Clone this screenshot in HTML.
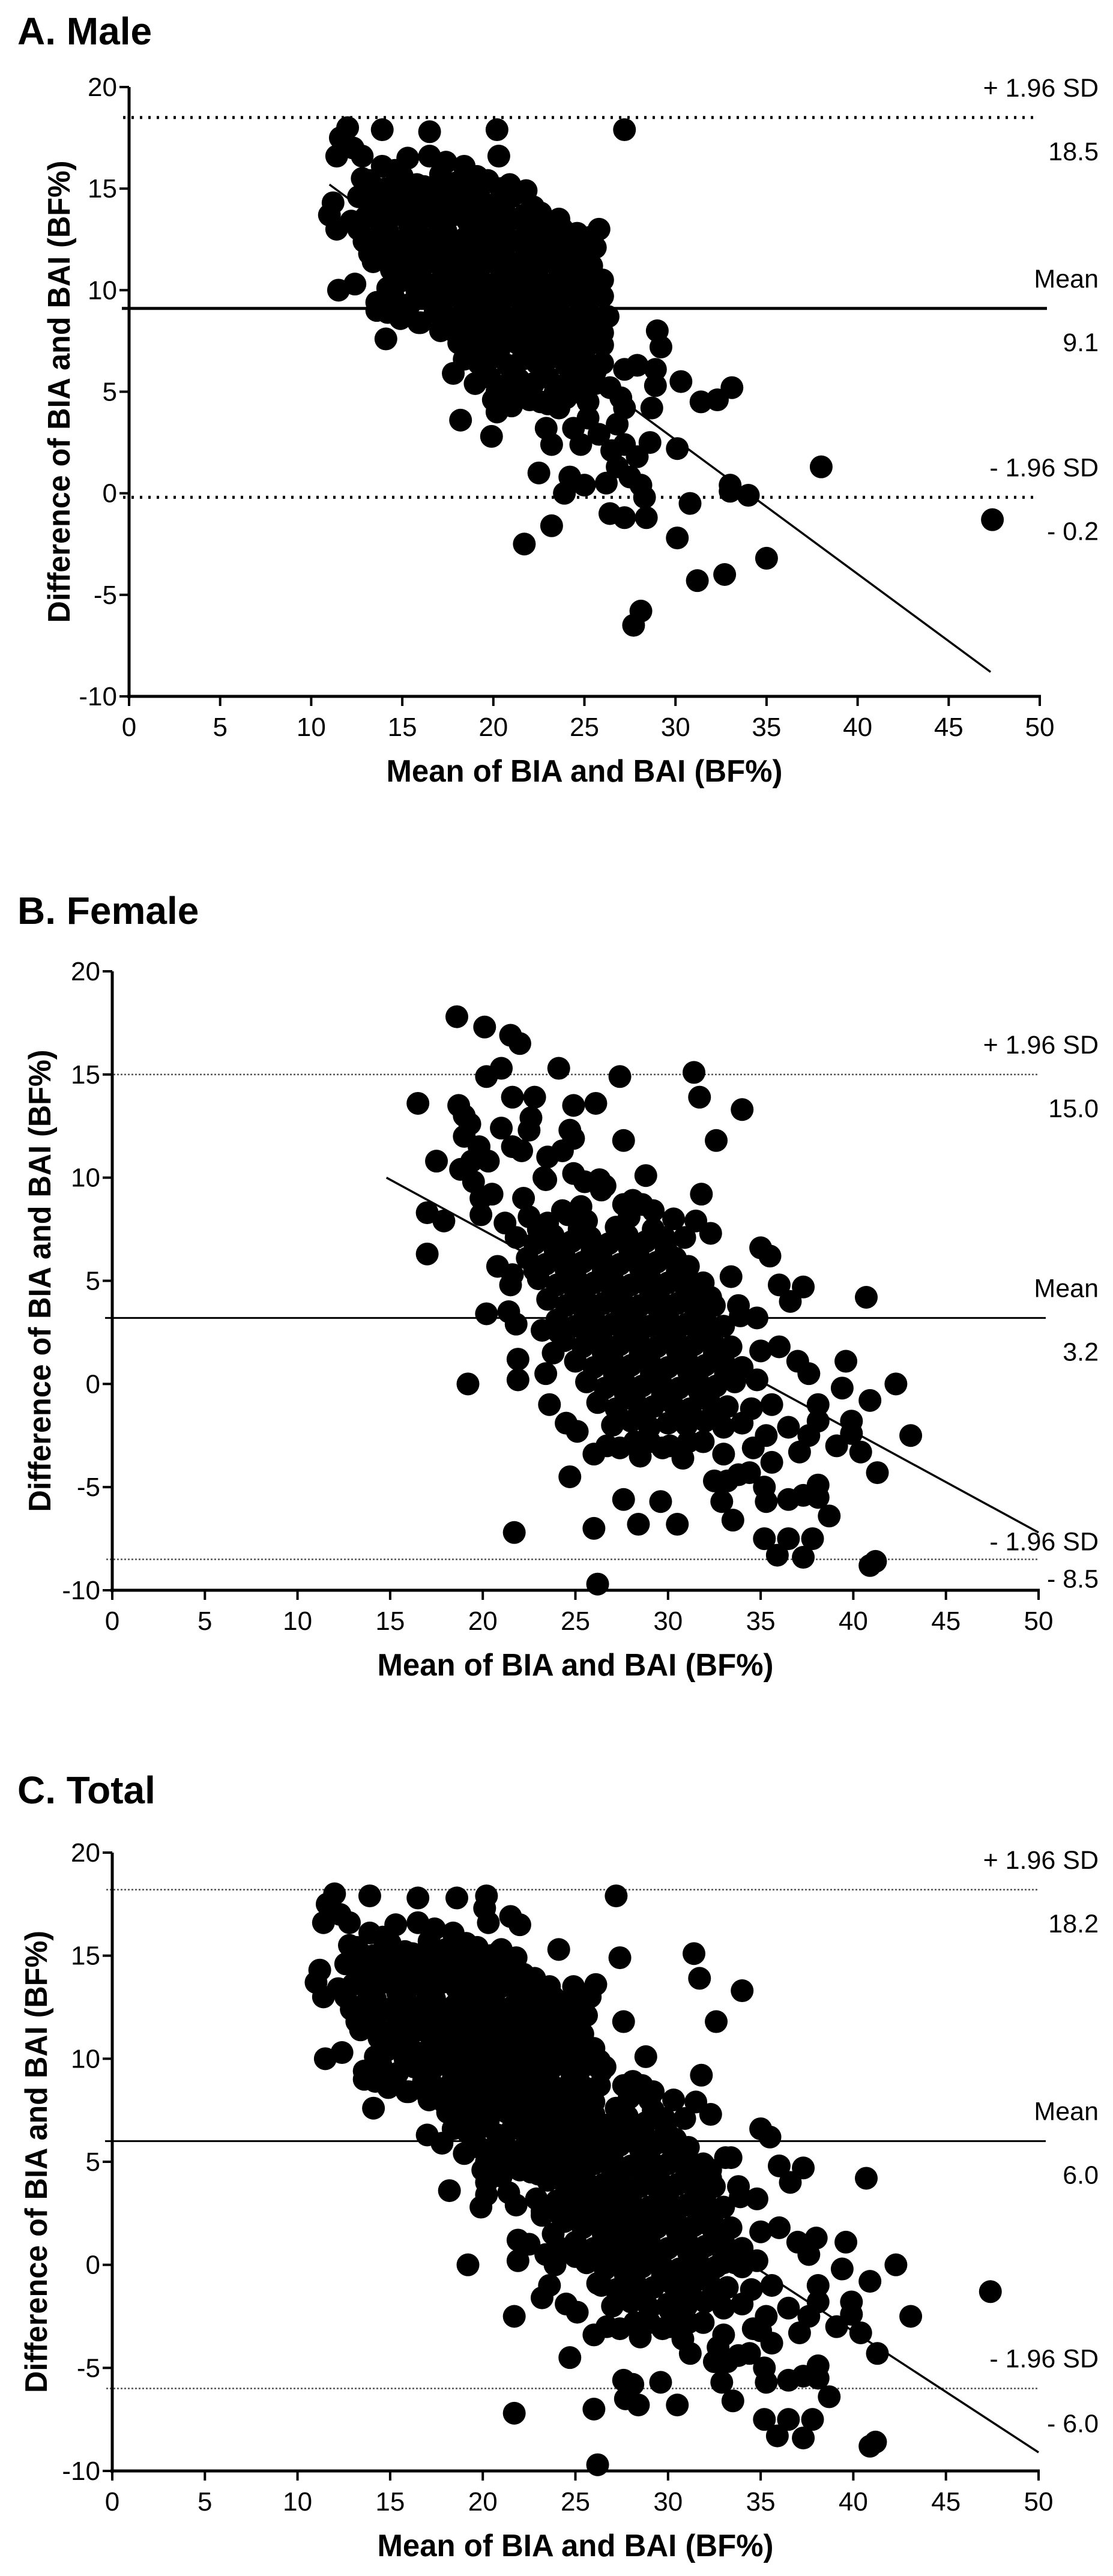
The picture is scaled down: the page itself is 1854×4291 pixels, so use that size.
<!DOCTYPE html>
<html><head><meta charset="utf-8"><title>Bland-Altman plots</title>
<style>
html,body{margin:0;padding:0;background:#fff;}
svg{display:block;}
text{font-family:"Liberation Sans",sans-serif;fill:#000;}
</style></head>
<body>
<svg id="fig" xmlns="http://www.w3.org/2000/svg" width="1854" height="4291" viewBox="0 0 1854 4291"></svg>
<script>
// ---- data ----
const malePoints = [
[12.0,18.0],[13.9,17.9],[16.5,17.8],[20.2,17.9],[27.2,17.9],[20.3,16.6],[19.7,15.4],[11.4,16.6],[11.0,13.7],[11.5,10.0],
[12.4,10.3],[14.1,7.6],[18.2,3.6],[19.9,2.8],[22.5,1.0],[21.7,-2.5],[23.2,-1.6],[23.9,0.0],[25.0,0.4],[24.2,0.8],
[30.1,-2.2],[31.2,-4.3],[32.7,-4.0],[35.0,-3.2],[28.1,-5.8],[27.7,-6.5],[30.8,-0.5],[33.0,0.1],[34.0,-0.1],[33.0,0.4],
[30.1,2.2],[38.0,1.3],[47.4,-1.3],[30.3,5.5],[31.4,4.5],[32.3,4.6],[33.1,5.2],[29.0,8.0],[29.2,7.2],[28.9,6.1],
[28.9,5.3],[28.7,4.2],[28.6,2.5],[27.2,6.1],[27.9,6.3],[26.4,-1.0],[27.2,-1.2],[28.4,-1.2],[28.3,-0.2],[28.1,0.4],
[26.2,0.5],[26.8,1.3],[27.2,2.4],[26.8,3.4],[27.0,4.7],[27.2,4.2],[26.4,5.2],[25.8,13.0],[25.6,12.1],[25.4,11.2],
[26.0,9.7],[26.0,7.9],[23.6,13.5],[24.6,12.8],[23.1,12.3],[21.5,14.8],[21.7,13.7],[20.4,14.4],[18.4,16.1],[17.4,16.3],
[16.5,16.6],[15.3,16.5],[13.9,16.1],[12.8,16.6],[12.8,15.5],[11.6,17.5],[11.2,14.3],[11.4,13.0],[13.2,11.8],[13.6,9.0],
[15.9,8.4],[17.1,8.0],[17.8,5.9],[20.2,4.0],[21.3,4.8],[22.6,4.5],[23.6,4.2],[24.4,3.2],[24.8,2.4],[22.9,3.2],
[23.2,2.4],[25.2,3.7],[26.0,7.3],[24.4,8.0],[24.8,5.9],[23.3,7.5],[24.1,6.4],[12.3,17.0],[14.6,15.9],[15.8,15.2],
[13.2,15.4],[14.1,15.0],[15.0,15.6],[16.2,15.1],[17.1,15.7],[18.0,15.3],[19.1,15.6],[20.9,15.2],[21.8,14.9],
[12.6,14.6],[13.5,14.3],[14.4,14.7],[15.2,14.2],[15.9,14.6],[16.8,14.4],[17.6,14.8],[18.4,14.3],[19.2,14.7],[20.0,14.2],[21.0,14.6],[22.2,14.1],
[12.2,13.4],[13.0,13.6],[13.8,13.3],[14.6,13.7],[15.4,13.2],[16.2,13.6],[17.0,13.3],[17.8,13.7],[18.6,13.4],[19.4,13.6],[20.2,13.2],[21.0,13.5],[22.0,13.1],[22.9,13.4],
[12.9,12.4],[13.7,12.7],[14.5,12.3],[15.3,12.6],[16.1,12.4],[16.9,12.7],[17.7,12.2],[18.5,12.6],[19.3,12.3],[20.1,12.7],[20.9,12.4],[21.7,12.6],[22.6,12.3],[23.5,12.6],[24.5,12.2],
[13.4,11.4],[14.2,11.7],[15.0,11.3],[15.8,11.6],[16.6,11.4],[17.4,11.7],[18.2,11.3],[19.0,11.6],[19.8,11.4],[20.6,11.7],[21.4,11.3],[22.2,11.6],[23.0,11.4],[23.9,11.7],[24.8,11.3],
[14.8,10.4],[15.6,10.7],[16.4,10.3],[17.2,10.6],[18.0,10.4],[18.8,10.7],[19.6,10.3],[20.4,10.6],[21.2,10.4],[22.0,10.7],[22.8,10.3],[23.6,10.6],[24.5,10.4],[25.3,10.6],
[13.6,9.4],[14.5,9.7],[15.4,9.3],[16.3,9.6],[17.2,9.4],[18.0,9.7],[18.8,9.3],[19.6,9.6],[20.4,9.4],[21.2,9.7],[22.0,9.3],[22.8,9.6],[23.6,9.4],[24.4,9.7],[25.2,9.4],
[14.9,8.6],[16.0,8.4],[17.5,8.6],[18.3,8.4],[19.1,8.7],[19.9,8.3],[20.7,8.6],[21.5,8.4],[22.3,8.7],[23.1,8.3],[23.9,8.6],[24.7,8.4],[25.5,8.6],
[18.1,7.4],[18.9,7.7],[19.7,7.3],[20.5,7.6],[21.3,7.4],[22.1,7.7],[22.9,7.3],[23.7,7.6],[24.5,7.4],[25.3,7.6],
[18.4,6.6],[19.2,6.4],[20.0,6.7],[20.8,6.3],[21.6,6.6],[22.4,6.4],[23.2,6.7],[24.0,6.3],[25.0,6.6],[26.0,6.4],
[19.0,5.4],[19.8,5.7],[20.6,5.3],[21.4,5.6],[22.2,5.4],[23.0,5.7],[23.8,5.3],[24.6,5.6],[25.6,5.4],
[20.0,4.6],[21.0,4.3],[22.0,4.6],[23.0,4.4],[24.0,4.7],[25.2,4.5],[25.8,2.9],[26.5,2.1],[27.5,0.8],[27.9,1.8],
[13.6,15.0],[14.8,14.9],[16.6,15.0],[18.8,15.0],[20.4,15.0],[13.9,14.0],[15.6,13.9],[17.3,14.0],[19.0,14.0],[20.6,13.9],[22.6,13.8],
[12.6,13.0],[14.2,12.9],[15.8,13.0],[17.4,12.9],[19.0,13.0],[20.6,12.9],[22.4,12.8],[23.8,13.0],[13.8,12.0],[15.4,12.0],[17.0,11.9],[18.6,12.0],[20.2,11.9],[21.8,12.0],[23.3,11.9],[25.0,11.8],
[14.4,11.0],[16.0,11.0],[17.6,10.9],[19.2,11.0],[20.8,11.0],[22.4,10.9],[24.0,11.0],[14.2,10.1],[15.8,10.0],[17.4,10.0],[19.0,9.9],[20.6,10.0],[22.2,9.9],[23.8,10.0],[25.4,10.0],
[14.2,8.9],[15.2,9.0],[16.8,8.9],[18.4,9.0],[20.0,8.9],[21.6,9.0],[23.2,8.9],[24.8,9.0],[17.8,8.0],[19.4,7.9],[21.0,8.0],[22.6,7.9],[24.2,7.8],[25.8,8.2],
[18.7,7.0],[20.3,7.0],[21.9,7.0],[23.5,6.9],[25.0,7.0],[19.5,6.0],[21.1,6.0],[22.7,6.0],[24.3,5.9],[25.6,6.0],[20.2,5.0],[21.8,5.0],[23.4,5.0],[24.9,4.9],
[25.3,12.6],[24.0,12.4],[26.0,10.5],[26.3,8.7]
];
const femalePoints = [
[18.6,17.8],[20.1,17.3],[21.5,16.9],[22.0,16.5],[21.0,15.3],[20.2,14.9],[24.1,15.3],[27.4,14.9],[31.4,15.1],[31.7,13.9],
[34.0,13.3],[32.6,11.8],[27.6,11.8],[28.8,10.1],[31.8,9.2],[16.5,13.6],[17.5,10.8],[17.0,8.3],[17.9,7.9],[17.0,6.3],
[19.2,0.0],[21.7,-7.2],[24.7,-4.5],[26.0,-7.0],[26.2,-9.7],[27.6,-5.6],[28.4,-6.8],[29.6,-5.7],[30.5,-6.8],[33.5,-6.6],
[35.2,-7.5],[35.9,-8.3],[36.5,-7.5],[37.3,-8.4],[37.8,-7.5],[40.9,-8.8],[41.2,-8.6],[40.7,4.2],[42.3,0.0],[43.1,-2.5],
[41.3,-4.3],[40.4,-3.3],[38.7,-6.4],[38.1,-4.9],[38.1,-5.5],[36.5,-5.6],[35.2,-5.0],[40.9,-0.8],[39.9,-1.8],[39.9,-2.4],
[39.6,1.1],[39.4,-0.2],[38.1,-1.0],[38.1,-1.8],[39.1,-3.0],[37.6,-2.5],[37.1,-3.3],[36.5,-2.1],[35.0,6.6],[35.5,6.2],
[36.0,4.8],[37.3,4.7],[36.6,4.0],[34.8,3.2],[33.8,3.8],[35.0,1.6],[36.0,1.8],[37.0,1.1],[37.6,0.5],[35.6,-1.0],
[35.3,-2.5],[34.6,-3.1],[35.6,-3.8],[34.4,-4.3],[33.2,-4.7],[32.9,-5.7],[35.3,-5.7],[37.3,-5.4],[29.7,-3.1],[29.0,-2.8],
[26.7,-3.0],[26.0,-3.4],[27.4,-3.1],[28.2,-2.8],[30.1,-3.0],[31.1,-2.8],[31.9,-2.8],[32.5,-4.7],[33.8,-4.4],[23.6,-1.0],
[24.5,-1.9],[25.1,-2.3],[23.4,0.5],[21.9,0.2],[21.9,1.2],[20.2,3.4],[21.4,3.5],[21.8,2.9],[20.8,5.7],[21.5,4.8],
[21.6,5.3],[22.8,5.5],[23.2,2.6],[23.8,1.5],[24.1,2.5],[20.5,9.2],[19.9,8.2],[21.2,7.8],[22.2,9.0],[23.4,9.9],
[24.9,10.2],[26.3,9.9],[26.6,9.6],[25.3,8.6],[24.3,8.4],[27.6,8.7],[28.6,8.7],[29.2,8.4],[30.3,8.0],[31.5,7.9],
[32.3,7.3],[30.9,7.1],[30.1,6.2],[31.1,5.7],[31.9,4.9],[33.4,5.2],[32.3,4.2],[33.9,3.3],[18.7,13.5],[19.0,13.0],
[19.3,12.6],[19.0,12.0],[19.8,11.5],[19.4,10.8],[20.3,10.8],[19.9,9.0],[21.6,13.9],[22.8,13.9],[22.6,12.9],[22.5,12.3],
[21.6,11.5],[22.1,11.3],[24.9,13.5],[26.1,13.6],[24.7,12.3],[24.9,11.9],[24.3,11.3],[23.3,10.0],[25.5,9.8],[26.4,9.4],
[28.1,8.9],[27.9,8.1],[18.8,10.4],[19.5,9.8],[21.0,12.4],[23.5,11.0],
[22.5,8.1],[23.5,7.8],[24.6,8.2],[25.6,7.9],
[21.8,7.1],[22.8,6.8],[23.8,7.2],[24.8,6.9],[25.8,7.1],[26.8,6.8],[27.8,7.2],[28.8,6.9],[29.8,7.1],
[22.4,6.1],[23.4,5.8],[24.4,6.2],[25.4,5.9],[26.4,6.1],[27.4,5.8],[28.4,6.2],[29.4,5.9],[30.4,6.1],
[23.0,5.1],[24.0,4.8],[25.0,5.2],[26.0,4.9],[27.0,5.1],[28.0,4.8],[29.0,5.2],[30.0,4.9],[31.0,5.1],
[23.5,4.1],[24.5,3.8],[25.5,4.2],[26.5,3.9],[27.5,4.1],[28.5,3.8],[29.5,4.2],[30.5,3.9],[31.5,4.1],[32.5,3.8],
[24.0,3.1],[25.0,2.8],[26.0,3.2],[27.0,2.9],[28.0,3.1],[29.0,2.8],[30.0,3.2],[31.0,2.9],[32.0,3.1],[33.0,2.8],
[24.4,2.1],[25.4,1.8],[26.4,2.2],[27.4,1.9],[28.4,2.1],[29.4,1.8],[30.4,2.2],[31.4,1.9],[32.4,2.1],[33.4,1.8],
[25.0,1.1],[26.0,0.8],[27.0,1.2],[28.0,0.9],[29.0,1.1],[30.0,0.8],[31.0,1.2],[32.0,0.9],[33.0,1.1],[34.0,0.8],
[25.6,0.1],[26.6,-0.2],[27.6,0.2],[28.6,-0.1],[29.6,0.1],[30.6,-0.2],[31.6,0.2],[32.6,-0.1],[33.6,0.1],
[26.2,-0.9],[27.2,-1.2],[28.2,-0.8],[29.2,-1.1],[30.2,-0.9],[31.2,-1.2],[32.2,-0.8],[33.2,-1.1],
[27.0,-2.0],[28.0,-1.8],[29.0,-2.1],[30.0,-1.9],[31.0,-2.0],[32.0,-1.8],[33.0,-2.1],[34.0,-1.9],
[28.5,-3.5],[30.8,-3.6],[33.0,-3.4],[34.5,-1.2],[34.8,0.2],
[23.0,7.5],[25.2,7.5],[27.2,7.6],[29.2,7.5],[23.9,6.5],[25.9,6.5],[27.9,6.6],[29.9,6.5],[24.5,5.5],[26.5,5.5],[28.5,5.6],[30.5,5.5],
[25.0,4.5],[27.0,4.5],[29.0,4.6],[31.0,4.5],[25.5,3.5],[27.5,3.5],[29.5,3.6],[31.5,3.5],[25.9,2.5],[27.9,2.5],[29.9,2.6],[31.9,2.5],
[26.5,1.5],[28.5,1.5],[30.5,1.6],[32.5,1.5],[27.1,0.5],[29.1,0.5],[31.1,0.6],[33.1,0.5],[27.7,-0.5],[29.7,-0.5],[31.7,-0.4],
[28.5,-1.5],[30.5,-1.5],[32.5,-1.4]
];
const panelTitles = ["A. Male","B. Female","C. Total"];
const meanValues = [9.1, 3.2, 6.0];
const upperLoA = [18.5, 15.0, 18.2];
const lowerLoA = [-0.2, -8.5, -6.0];
const meanLabels = ["9.1","3.2","6.0"];
const upperLabels = ["18.5","15.0","18.2"];
const lowerLabels = ["- 0.2","- 8.5","- 6.0"];
const fitStartX = [11.0, 14.8, 11.0];
const fitStartY = [15.2, 10.0, 13.8];
const fitEndX = [47.3, 50.0, 50.0];
const fitEndY = [-8.8, -7.2, -9.1];
const xTicks = [0,5,10,15,20,25,30,35,40,45,50];
const yTicks = [-10,-5,0,5,10,15,20];

// ---- layout (pixels) ----
const layout = [
 {L:215,R:1732,T:145,B:1160,titleY:74,thick:true,ytX:98,lowA:-50,lowB:52},
 {L:187,R:1730,T:1618,B:2649,titleY:1539,thick:false,ytX:66,lowA:-30,lowB:28},
 {L:187,R:1730,T:3086,B:4116,titleY:3004,thick:false,ytX:60,lowA:-50,lowB:54}
];
const NS="http://www.w3.org/2000/svg";
const svg=document.getElementById('fig');
function mk(tag,attrs,parent){const e=document.createElementNS(NS,tag);for(const k in attrs)e.setAttribute(k,attrs[k]);(parent||svg).appendChild(e);return e;}
const datasets=[malePoints,femalePoints,malePoints.concat(femalePoints)];
const names=["male","female","total"];

layout.forEach((P,i)=>{
  const g=mk('g',{});
  
  
  const xs=v=>P.L+(v-0)/50*(P.R-P.L);
  const ys=v=>P.B-(v+10)/30*(P.B-P.T);
  const t=mk('text',{x:29,y:P.titleY,'font-size':64,'font-weight':'bold'},g);
  t.textContent=panelTitles[i];
  
  
  [[upperLoA[i],'upper-loa-line'],[lowerLoA[i],'lower-loa-line']].forEach(([v,n])=>{
    const l=mk('line',{x1:P.L-10,x2:P.R-2,y1:ys(v),y2:ys(v),stroke:P.thick?'#000':'#555','stroke-width':P.thick?5:2.5,'stroke-dasharray':P.thick?'4 10':'3 3'},g);
    
    
  });
  const ml=mk('line',{x1:P.L-12,x2:P.R+12,y1:ys(meanValues[i]),y2:ys(meanValues[i]),stroke:'#000','stroke-width':P.thick?5:3},g);
  
  
  const fl=mk('line',{x1:xs(fitStartX[i]),y1:ys(fitStartY[i]),x2:xs(fitEndX[i]),y2:ys(fitEndY[i]),stroke:'#000','stroke-width':3.5},g);
  
  
  datasets[i].forEach(p=>{
    const c=mk('circle',{cx:xs(p[0]),cy:ys(p[1]),r:19,fill:'#000'},g);
    
    
  });
  const ax=mk('line',{x1:P.L,x2:P.L,y1:P.T,y2:P.B+3,stroke:'#000','stroke-width':5},g);
  
  
  const bx=mk('line',{x1:P.L-3,x2:P.R+2,y1:P.B,y2:P.B,stroke:'#000','stroke-width':5},g);
  
  
  yTicks.forEach(v=>{
    mk('line',{x1:P.L-16,x2:P.L,y1:ys(v),y2:ys(v),stroke:'#000','stroke-width':4},g);
    const tl=mk('text',{x:P.L-20,y:ys(v)+15,'font-size':44,'text-anchor':'end'},g);
    tl.textContent=String(v);
    
    
  });
  xTicks.forEach(v=>{
    mk('line',{x1:xs(v),x2:xs(v),y1:P.B,y2:P.B+16,stroke:'#000','stroke-width':4},g);
    const tl=mk('text',{x:xs(v),y:P.B+66,'font-size':44,'text-anchor':'middle'},g);
    tl.textContent=String(v);
    
    
  });
  const xt=mk('text',{x:(P.L+P.R)/2,y:P.B+142,'font-size':52,'font-weight':'bold','text-anchor':'middle',textLength:660,lengthAdjust:'spacingAndGlyphs'},g);
  xt.textContent='Mean of BIA and BAI (BF%)';
  
  
  const cy=(P.T+P.B)/2;
  const yt=mk('text',{x:0,y:0,'font-size':52,'font-weight':'bold','text-anchor':'middle',textLength:770,lengthAdjust:'spacingAndGlyphs',transform:`translate(${P.ytX+18},${cy}) rotate(-90)`},g);
  yt.textContent='Difference of BIA and BAI (BF%)';
  
  
  const rl=[
    ['+ 1.96 SD',ys(upperLoA[i])-50,'upper-loa-label'],[upperLabels[i],ys(upperLoA[i])+56,'upper-loa-value'],
    ['Mean',ys(meanValues[i])-50,'mean-label'],[meanLabels[i],ys(meanValues[i])+56,'mean-value'],
    ['- 1.96 SD',ys(lowerLoA[i])+P.lowA,'lower-loa-label'],[lowerLabels[i],ys(lowerLoA[i])+P.lowB+4,'lower-loa-value']
  ];
  rl.forEach(([s,y,n])=>{
    const e=mk('text',{x:1830,y:y+15,'font-size':43,'text-anchor':'end'},g);
    e.textContent=s;
    
    
  });
});
</script>
</body></html>
